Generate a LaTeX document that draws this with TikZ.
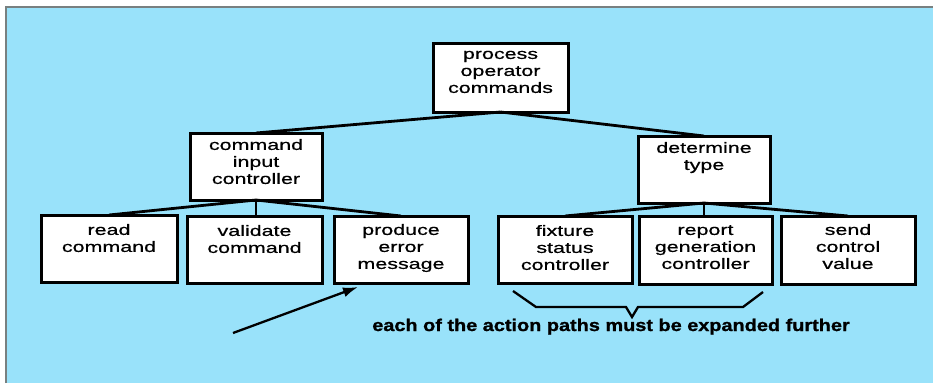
\documentclass[tikz,border=0pt]{standalone}
\usepackage{fontspec}
\setmainfont{Liberation Sans}
\newfontfamily\boxfont[FakeStretch=1.43, FakeBold=0.6]{Liberation Sans}
\newfontfamily\notefont[FakeStretch=1.17, BoldFeatures={FakeBold=1.2}]{Liberation Sans}
\usetikzlibrary{arrows.meta}
\definecolor{bgblue}{RGB}{153,226,250}
\definecolor{edgegray}{RGB}{120,128,128}
\newcommand{\boxtxt}[4]{\parbox[c][#2pt][t]{#1pt}{\centering\boxfont\fontsize{15}{17}\selectfont\vspace*{#3pt}\strut #4}}
\tikzset{
  blk/.style={draw=black, line width=3pt, fill=white, inner sep=0pt, outer sep=0pt},
  link/.style={line width=2.8pt, draw=black},
  brace/.style={line width=2.3pt, draw=black, line join=miter},
  pointer/.style={line width=2.3pt, draw=black, -{Latex[length=15pt,width=10pt]}},
  note/.style={anchor=base, inner sep=0pt, font=\notefont\bfseries\fontsize{17}{20}\selectfont}
}
\begin{document}
\begin{tikzpicture}[x=1pt,y=-1pt]
\useasboundingbox (0,0) rectangle (933,383);
\fill[white] (0,0) rectangle (933,383);
\fill[bgblue] (6,7) rectangle (933,383);
\draw[edgegray, line width=1.5pt] (6,383) -- (6,7) -- (933,7);

\node[blk] (pr)  at (500.5,77.5) {\boxtxt{135}{69}{4}{process\\operator\\commands}};
\node[blk] (cic) at (256,166.5)  {\boxtxt{132}{67}{5}{command\\input\\controller}};
\node[blk] (dt)  at (704,169.5)  {\boxtxt{132}{67}{5}{determine\\type}};
\node[blk] (rc)  at (109,248.5)  {\boxtxt{136}{67}{8}{read\\command}};
\node[blk] (vc)  at (254.5,249.5){\boxtxt{135}{67}{8}{validate\\command}};
\node[blk] (pe)  at (401,249.5)  {\boxtxt{134}{67}{7}{produce\\error\\message}};
\node[blk] (fs)  at (565,249.5)  {\boxtxt{134}{67}{8}{fixture\\status\\controller}};
\node[blk] (rg)  at (705.5,250)  {\boxtxt{133}{68}{7}{report\\generation\\controller}};
\node[blk] (sc)  at (848,250)    {\boxtxt{134}{68}{7}{send\\control\\value}};

\draw[link] (pr.south) -- (cic.north);
\draw[link] (pr.south) -- (dt.north);
\draw[link] (cic.south) -- (rc.north);
\draw[link] (cic.south) -- (vc.north -| cic.south);
\draw[link] (cic.south) -- (pe.north);
\draw[link] (dt.south) -- (fs.north);
\draw[link] (dt.south) -- (rg.north -| dt.south);
\draw[link] (dt.south) -- (sc.north);

\coordinate (ptail) at (233,333);
\coordinate (phead) at (358,287);
\draw[pointer] (ptail) -- (phead);

\coordinate (bl) at (513,291);
\coordinate (br) at (763,292);
\draw[brace] (bl) -- (536,307) -- (626,307) -- (632,317) -- (638,307) -- (743,307) -- (br);

\node[note] (msg) at (611,331) {each of the action paths must be expanded further};
\end{tikzpicture}
\end{document}
